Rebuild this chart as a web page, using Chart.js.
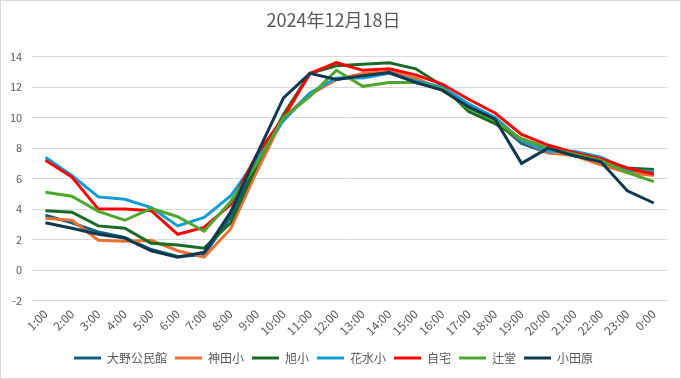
<!DOCTYPE html>
<html>
<head>
<meta charset="utf-8">
<script src="https://cdn.jsdelivr.net/npm/chart.js@4/dist/chart.umd.min.js"></script>
<style>
  html, body { margin: 0; padding: 0; background: #fff; }
  #wrap { width: 681px; height: 379px; position: relative; }
</style>
</head>
<body>
<div id="wrap"><canvas id="c" width="681" height="379"></canvas></div>
<script>
const labels = ["1:00","2:00","3:00","4:00","5:00","6:00","7:00","8:00","9:00","10:00","11:00","12:00","13:00","14:00","15:00","16:00","17:00","18:00","19:00","20:00","21:00","22:00","23:00","0:00"];
const seriesNames = ["大野公民館","神田小","旭小","花水小","自宅","辻堂","小田原"];
const oono     = [3.6, 3.1, 2.5, 2.15, 1.35, 0.9, 1.0, 3.5, 7.1, 9.9, 11.6, 12.5, 12.8, 13.0, 12.5, 11.9, 10.8, 9.8, 8.3, 7.7, 7.6, 7.1, 6.5, 6.5];
const kanda    = [3.4, 3.27, 1.96, 1.9, 1.95, 1.27, 0.85, 2.7, 6.5, 10.0, 11.5, 12.5, 12.9, 13.0, 12.6, 11.8, 10.7, 9.7, 8.5, 7.7, 7.5, 6.9, 6.4, 6.2];
const asahi    = [3.9, 3.8, 2.9, 2.75, 1.76, 1.65, 1.44, 3.1, 6.9, 10.2, 12.9, 13.4, 13.5, 13.6, 13.2, 12.1, 10.4, 9.6, 8.6, 8.0, 7.5, 7.2, 6.7, 6.6];
const hanamizu = [7.4, 6.2, 4.8, 4.65, 4.1, 2.9, 3.45, 4.86, 7.3, 9.8, 11.6, 12.6, 12.6, 12.9, 12.4, 12.0, 10.9, 10.0, 8.5, 7.8, 7.8, 7.4, 6.6, 6.45];
const jitaku   = [7.2, 6.1, 4.0, 4.0, 3.9, 2.35, 2.8, 4.3, 7.6, 10.0, 12.9, 13.6, 13.1, 13.2, 12.8, 12.2, 11.2, 10.3, 8.9, 8.2, 7.7, 7.3, 6.7, 6.3];
const tsujido  = [5.1, 4.85, 3.85, 3.27, 4.05, 3.5, 2.55, 4.5, 7.0, 10.0, 11.4, 13.1, 12.05, 12.3, 12.3, 11.9, 10.6, 9.8, 8.6, 8.0, 7.6, 7.2, 6.4, 5.8];
const odawara  = [3.1, 2.75, 2.35, 2.1, 1.27, 0.85, 1.17, 3.8, 7.6, 11.3, 12.9, 12.5, 12.75, 12.95, 12.3, 11.8, 10.7, 9.9, 7.0, 8.0, 7.5, 7.1, 5.2, 4.4];
const colors = ["#156082","#E97132","#196B24","#0F9ED5","#FF0000","#4EA72E","#10384F"];
const yTicks = [-2, 0, 2, 4, 6, 8, 10, 12, 14];
const titleText = "2024年12月18日";

const values = [oono, kanda, asahi, hanamizu, jitaku, tsujido, odawara];
const FONT = "'Noto Sans CJK JP', 'Noto Sans', sans-serif";

const datasets = values.map((v, i) => ({
  label: seriesNames[i],
  data: v,
  borderColor: colors[i],
  backgroundColor: colors[i],
  borderWidth: 3,
  pointRadius: 0,
  tension: 0,
  fill: false,
  order: 10 - i
}));

const bgBorder = {
  id: 'bgBorder',
  beforeDraw(chart) {
    const ctx = chart.ctx;
    ctx.save();
    ctx.fillStyle = '#ffffff';
    ctx.fillRect(0, 0, chart.width, chart.height);
    ctx.strokeStyle = '#d9d9d9';
    ctx.lineWidth = 1;
    ctx.strokeRect(0.5, 0.5, chart.width - 1, chart.height - 1);
    ctx.restore();
  }
};

new Chart(document.getElementById('c'), {
  type: 'line',
  data: { labels: labels, datasets: datasets },
  plugins: [bgBorder],
  options: {
    responsive: false,
    animation: false,
    devicePixelRatio: 1,
    layout: { padding: { left: 0, right: 14, top: 6, bottom: 5 } },
    plugins: {
      title: {
        display: true,
        text: titleText,
        color: '#595959',
        font: { family: FONT, size: 18, weight: 'normal' },
        padding: { top: 3, bottom: 26 }
      },
      legend: {
        position: 'bottom',
        labels: {
          color: '#595959',
          font: { family: FONT, size: 12 },
          boxWidth: 27,
          boxHeight: 3,
          padding: 8,
          sort: (a, b) => a.datasetIndex - b.datasetIndex,
          generateLabels(chart) {
            const items = Chart.defaults.plugins.legend.labels.generateLabels(chart);
            items.forEach(it => { it.lineWidth = 0; it.fillStyle = colors[it.datasetIndex]; });
            return items;
          }
        }
      },
      tooltip: { enabled: false }
    },
    scales: {
      x: {
        offset: true,
        grid: { display: false, drawTicks: false },
        border: { display: false },
        ticks: {
          color: '#595959',
          font: { family: FONT, size: 12 },
          maxRotation: 45,
          minRotation: 45,
          autoSkip: false,
          padding: 6
        }
      },
      y: {
        min: -2,
        max: 14,
        afterBuildTicks(axis) { axis.ticks = yTicks.map(v => ({ value: v })); },
        grid: { color: '#d9d9d9', lineWidth: 1, drawTicks: false },
        border: { display: false },
        ticks: {
          color: '#595959',
          font: { family: FONT, size: 11 },
          padding: 10
        }
      }
    }
  }
});
</script>
</body>
</html>
